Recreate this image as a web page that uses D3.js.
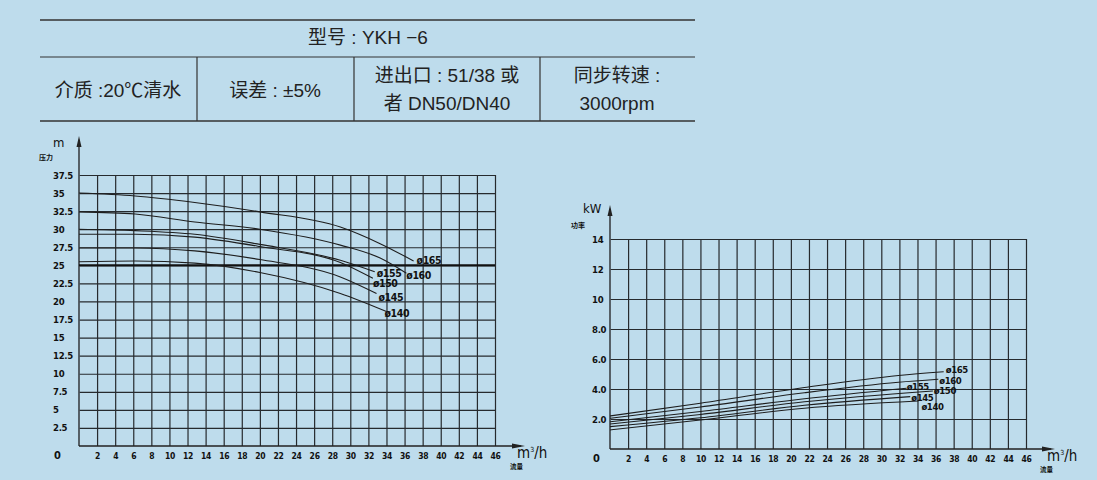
<!DOCTYPE html>
<html lang="zh">
<head>
<meta charset="UTF-8">
<title>YKH-6 性能曲线</title>
<script src="https://d3js.org/d3.v7.min.js"></script>
<style>
  body { margin: 0; background: #bedcec; }
  .grid line { stroke: #262a2e; stroke-width: 1.2px; }
  .grid path { display: none; }
  .tick text { font-family: "Liberation Sans Narrow", "DejaVu Sans Condensed", sans-serif; font-weight: bold; fill: #111; }
  .curve { fill: none; stroke: #1e1e1e; stroke-width: 1.1px; }
  .lbl { font-family: "Liberation Sans Narrow", "DejaVu Sans Condensed", sans-serif; font-weight: bold; font-size: 10.5px; letter-spacing: -0.4px; fill: #111; }
  .hdr { font-family: "Liberation Sans", "Noto Sans CJK SC", sans-serif; font-size: 19px; fill: #222; }
</style>
</head>
<body>
<div id="chart"></div>
<script>
// ---- data ----
var flowTicks = d3.range(2, 47, 2);
var headTicks = [2.5, 5, 7.5, 10, 12.5, 15, 17.5, 20, 22.5, 25, 27.5, 30, 32.5, 35, 37.5];
var headTickLabels = ["2.5", "5", "7.5", "10", "12.5", "15", "17.5", "20", "22.5", "25", "27.5", "30", "32.5", "35", "37.5"];
var powerTicks = [2, 4, 6, 8, 10, 12, 14];
var powerTickLabels = ["2.0", "4.0", "6.0", "8.0", "10", "12", "14"];
var impellers = ["ø165", "ø160", "ø155", "ø150", "ø145", "ø140"];
var headRef = 25;

// head curves (m) vs flow (m3/h)
var headFlow165 = [0, 6.2, 12.8, 20, 28.9, 33.3, 37.0];
var headVal165  = [35.0, 34.6, 33.7, 32.4, 30.3, 28.0, 25.6];
var headFlow160 = [0, 6.2, 12.8, 20, 28.9, 33.3, 36.2];
var headVal160  = [32.4, 32.1, 31.0, 30.0, 27.8, 26.0, 23.9];
var headFlow155 = [0, 6.2, 12.8, 20, 28.9, 32.7];
var headVal155  = [30.0, 29.8, 29.3, 27.9, 25.7, 24.1];
var headFlow150 = [0, 6.2, 12.8, 20, 28.9, 32.5];
var headVal150  = [29.3, 29.3, 28.9, 27.6, 25.4, 23.2];
var headFlow145 = [0, 6.2, 12.8, 20, 28.9, 32.9];
var headVal145  = [27.4, 27.4, 27.0, 25.8, 23.4, 21.1];
var headFlow140 = [0, 6.2, 12.8, 20, 28.9, 34.0];
var headVal140  = [25.5, 25.6, 25.3, 24.0, 21.1, 18.6];

// power curves (kW) vs flow (m3/h)
var powFlow165 = [0, 10, 21.5, 31.9, 36.9];
var powVal165  = [2.2, 3.05, 4.1, 4.9, 5.15];
var powFlow160 = [0, 10, 21.5, 31.9, 36.3];
var powVal160  = [2.05, 2.8, 3.75, 4.45, 4.65];
var powFlow155 = [0, 10, 21.5, 32.8];
var powVal155  = [1.82, 2.5, 3.35, 4.05];
var powFlow150 = [0, 10, 21.5, 35.7];
var powVal150  = [1.67, 2.3, 3.15, 3.87];
var powFlow145 = [0, 10, 21.5, 33.2];
var powVal145  = [1.49, 2.08, 2.92, 3.49];
var powFlow140 = [0, 10, 21.5, 34.1];
var powVal140  = [1.27, 1.93, 2.72, 3.2];

var headSeries = [
  [headFlow165, headVal165], [headFlow160, headVal160], [headFlow155, headVal155],
  [headFlow150, headVal150], [headFlow145, headVal145], [headFlow140, headVal140]
];
var powSeries = [
  [powFlow165, powVal165], [powFlow160, powVal160], [powFlow155, powVal155],
  [powFlow150, powVal150], [powFlow145, powVal145], [powFlow140, powVal140]
];

// label offsets from curve end (px)
var headLblOff = [[3, 3], [0, 5.5], [2, 5.5], [0, 9], [2, 7], [-2, 5.5]];
var powLblOff = [[2, 1.5], [1, 5], [0, 1.5], [1, 3], [1, 4], [3, 9]];

var W = 1097, H = 480;
var svg = d3.select("#chart").append("svg").attr("width", W).attr("height", H);
svg.append("rect").attr("width", W).attr("height", H).attr("fill", "#bedcec");

// ---- header table ----
var hdr = svg.append("g");
[[20, 1.6], [57, 1.2], [121, 1.6]].forEach(function (r) {
  hdr.append("line").attr("x1", 40).attr("x2", 695).attr("y1", r[0]).attr("y2", r[0])
    .attr("stroke", "#333").attr("stroke-width", r[1]);
});
[197, 354, 540].forEach(function (x) {
  hdr.append("line").attr("x1", x).attr("x2", x).attr("y1", 57).attr("y2", 121)
    .attr("stroke", "#333").attr("stroke-width", 1.2);
});
var cells = [
  [368, 44, "型号 : YKH −6"],
  [118, 97, "介质 :20℃清水"],
  [275, 97, "误差 : ±5%"],
  [447, 82, "进出口 : 51/38 或"],
  [447, 110, "者 DN50/DN40"],
  [617, 82, "同步转速 :"],
  [617, 110, "3000rpm"]
];
cells.forEach(function (c) {
  hdr.append("text").attr("class", "hdr").attr("x", c[0]).attr("y", c[1])
    .attr("text-anchor", "middle").text(c[2]);
});

// ---- chart helper ----
function drawChart(o) {
  var g = svg.append("g");
  var x = d3.scaleLinear().domain([0, 46]).range([o.x0, o.x1]);
  var y = d3.scaleLinear().domain([0, o.yMax]).range([o.y0, o.y1]);

  // vertical grid + x tick labels
  var xa = g.append("g").attr("class", "grid")
    .attr("transform", "translate(0," + o.y0 + ")")
    .call(d3.axisBottom(x).tickValues(flowTicks).tickSize(-(o.y0 - o.y1)).tickPadding(7));
  xa.selectAll("text").style("font-size", "8.5px").style("letter-spacing", "-0.3px");

  // horizontal grid + y tick labels
  var ya = g.append("g").attr("class", "grid")
    .attr("transform", "translate(" + o.x0 + ",0)")
    .call(d3.axisLeft(y).tickValues(o.yTicks).tickSize(-(o.x1 - o.x0))
      .tickFormat(function (d, i) { return o.yLabels[i]; }));
  ya.selectAll("text").style("font-size", "9.5px").style("letter-spacing", "-0.3px")
    .attr("text-anchor", "start").attr("x", o.lblX - o.x0);

  // origin 0
  g.append("text").attr("class", "lbl").attr("x", o.lblX + 1).attr("y", o.y0 + 13)
    .style("font-size", "11px").text("0");

  // axes with arrows
  g.append("line").attr("x1", o.x0).attr("x2", o.x0).attr("y1", o.y0).attr("y2", o.yTip + 4)
    .attr("stroke", "#4a5258").attr("stroke-width", 1.8);
  g.append("path").attr("d", "M" + o.x0 + "," + o.yTip + "l-2.5,11h5z").attr("fill", "#222");
  g.append("line").attr("x1", o.x0).attr("x2", o.xTip - 4).attr("y1", o.y0).attr("y2", o.y0)
    .attr("stroke", "#222").attr("stroke-width", 1.4);
  g.append("path").attr("d", "M" + o.xTip + "," + o.y0 + "l-13,-2.5v5z").attr("fill", "#222");

  // axis titles
  g.append("text").attr("x", o.xTip - 8).attr("y", o.y0 + 12)
    .style("font-family", "'Liberation Sans Narrow', 'DejaVu Sans Condensed', sans-serif")
    .style("font-size", "15px").attr("fill", "#111").html("m<tspan dy='-6' font-size='7'>3</tspan><tspan dy='6'>/h</tspan>");
  g.append("text").attr("x", o.xTip - 15).attr("y", o.y0 + 23)
    .style("font-family", "'Noto Sans CJK SC', sans-serif").style("font-size", "6.5px")
    .style("font-weight", "bold").attr("fill", "#111").text("流量");
  g.append("text").attr("x", o.unitX).attr("y", o.unitY)
    .style("font-family", "'Liberation Sans Narrow', 'DejaVu Sans Condensed', sans-serif")
    .style("font-size", "13px").attr("fill", "#111").text(o.unit);
  g.append("text").attr("x", o.subX).attr("y", o.subY)
    .style("font-family", "'Noto Sans CJK SC', sans-serif").style("font-size", "7px")
    .style("font-weight", "bold").attr("fill", "#111").text(o.sub);

  // reference line
  if (o.ref != null) {
    g.append("line").attr("x1", o.x0).attr("x2", o.x1).attr("y1", y(o.ref)).attr("y2", y(o.ref))
      .attr("stroke", "#111").attr("stroke-width", 2);
  }

  var line = d3.line().x(function (d) { return x(d[0]); }).y(function (d) { return y(d[1]); })
    .curve(d3.curveMonotoneX);
  o.series.forEach(function (s, i) {
    var pts = s[0].map(function (q, k) { return [q, s[1][k]]; });
    g.append("path").attr("class", "curve").attr("d", line(pts));
    var last = pts[pts.length - 1];
    g.append("text").attr("class", "lbl").style("font-size", o.lblSize)
      .attr("x", x(last[0]) + o.off[i][0]).attr("y", y(last[1]) + o.off[i][1])
      .text(impellers[i]);
  });
}

drawChart({
  x0: 79, x1: 495, y0: 446, y1: 175, yMax: 37.5, yTip: 136, xTip: 525, lblX: 53,
  yTicks: headTicks, yLabels: headTickLabels, ref: headRef, lblSize: "10.5px",
  unit: "m", unitX: 53, unitY: 147, sub: "压力", subX: 39, subY: 160,
  series: headSeries, off: headLblOff
});

drawChart({
  x0: 610, x1: 1026, y0: 449, y1: 239, yMax: 14, yTip: 205, xTip: 1055, lblX: 592,
  yTicks: powerTicks, yLabels: powerTickLabels, ref: null, lblSize: "9.5px",
  unit: "kW", unitX: 583, unitY: 213, sub: "功率", subX: 571, subY: 228,
  series: powSeries, off: powLblOff
});
</script>
</body>
</html>
